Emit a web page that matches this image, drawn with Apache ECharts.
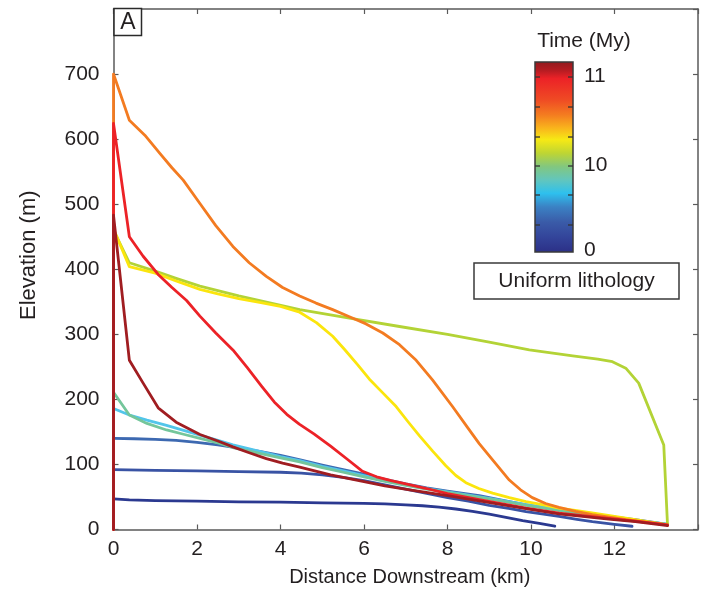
<!DOCTYPE html>
<html>
<head>
<meta charset="utf-8">
<script src="https://cdn.jsdelivr.net/npm/echarts@6/dist/echarts.min.js"></script>
<style>html,body{margin:0;padding:0;background:#fff}#c{width:701px;height:600px}</style>
</head>
<body>
<div id="c"></div>
<script>
// ---- data: [distance downstream (km), elevation (m)] ----
const xTicks = [0, 2, 4, 6, 8, 10, 12];
const yTicks = [0, 100, 200, 300, 400, 500, 600, 700];
const colorbarTitle = 'Time (My)';
const colorbarLabels = ['11', '10', '0'];
const legendText = 'Uniform lithology';
const panelLabel = 'A';

const profNavy = [[0,47],[0.38,45.5],[1,44.5],[2,43.5],[3,42.5],[4,42],[5,41],[6,40],[6.5,39.3],[7,38],[7.4,36.5],[7.8,34.5],[8.2,31.5],[8.6,28],[9,23.5],[9.4,18.5],[9.8,13.5],[10.2,9.5],[10.57,5]];
const profBlue = [[0,92],[1,91],[2,90],[3,89],[4,88],[4.5,86.5],[5,84],[5.5,80],[6,75],[6.5,68.5],[7,62],[7.5,55.5],[8,49],[8.5,43.5],[9,37],[9.5,32],[9.88,27.5],[10.3,23.5],[10.67,20],[11.1,15.5],[11.47,12],[12,8],[12.42,5]];
const profMidBlue = [[0,140],[0.5,139.5],[1,138.5],[1.5,137],[2,134],[2.5,130],[3,125],[3.5,120],[4,114],[4.5,106.5],[5,99],[5.5,92],[6,85],[6.5,77],[7,70],[7.5,64],[8,59],[8.76,52],[9.3,45],[9.88,38],[10.67,30],[11.3,24],[11.86,20],[12.5,15],[13.27,8]];
const profCyan = [[0,186],[0.38,176],[0.8,168],[1.27,160],[1.7,152],[2.07,145],[2.5,137],[2.86,130],[3.5,120],[4,112],[4.46,106],[5,97],[5.5,90],[6,83],[6.5,76],[7,69],[7.5,63],[8,58],[9,48],[10,37],[11,27],[12,18],[13.27,8]];
const profTeal = [[0,211],[0.38,176],[0.8,163],[1.27,153],[1.7,146],[2.07,140],[2.5,133],[2.86,126],[3.5,117],[4,110],[4.46,104],[5,95],[5.5,88],[6,81],[6.5,74],[7,68],[7.5,62],[8,57],[9,47],[10,36],[11,26],[12,18],[13.27,8]];
const profYellowGreen = [[0,460],[0.38,410],[1,397],[1.5,386],[2.07,374],[3,359],[4.46,338],[5.65,325],[6.85,312],[8,300],[9,288],[9.96,276],[11,267],[11.6,262],[11.95,258],[12.27,248],[12.58,225],[13.18,130],[13.27,7]];
const profYellow = [[0,462],[0.38,404],[1,394],[1.5,382],[2.07,369],[2.5,362],[3,355],[3.5,349],[4,343],[4.46,334],[4.86,318],[5.25,297],[5.53,277],[5.85,253],[6.13,231],[6.45,210],[6.77,189],[7.05,166],[7.33,144],[7.65,120],[7.96,98],[8.2,83],[8.44,72],[8.75,63],[9.08,56],[9.48,49],[9.88,43],[10.3,38],[10.67,33],[11.1,29],[11.5,25],[12,20],[12.5,15],[13.27,7]];
const profOrange = [[0,0],[0,700],[0.38,629],[0.75,606],[1.11,578],[1.4,556],[1.67,537],[2.07,501],[2.45,467],[2.86,435],[3.25,410],[3.66,389],[4.05,372],[4.46,359],[4.85,348],[5.25,338],[5.65,327],[6.05,316],[6.45,302],[6.85,284],[7.25,260],[7.64,230],[8.12,189],[8.5,155],[8.76,132],[9.08,107],[9.48,76],[9.75,61],[10.03,49],[10.35,40],[10.67,34],[11.07,28],[11.47,23],[11.87,19],[12.27,15],[12.8,11],[13.27,7]];
const profRed = [[0,0],[0,624],[0.38,450],[0.71,420],[1.07,392],[1.4,372],[1.75,352],[2.07,328],[2.45,302],[2.86,276],[3.2,249],[3.55,220],[3.85,196],[4.15,177],[4.45,162],[4.8,147],[5.2,128],[5.6,108],[5.95,90],[6.3,81],[6.65,75],[7.0,70],[7.5,63],[8,55],[8.76,46],[9.88,33],[10.67,25],[11.86,17],[12.5,13],[13.27,7]];
const profDarkRed = [[0,0],[0,483],[0.38,260],[0.71,225],[1.07,187],[1.5,165],[2.07,146],[2.5,136],[2.86,127],[3.25,118],[3.66,109],[4.05,102],[4.46,96],[5.2,84],[5.97,74],[6.5,67],[7.17,60],[8,52],[8.76,44],[9.88,32],[10.67,24],[11.86,16],[12.5,12],[13.27,6]];

const profiles = [
  {data: profNavy, color: '#2b3990'},
  {data: profBlue, color: '#3953a4'},
  {data: profMidBlue, color: '#3d69b1'},
  {data: profCyan, color: '#52c5ea'},
  {data: profTeal, color: '#74c69b'},
  {data: profYellowGreen, color: '#b3d336'},
  {data: profYellow, color: '#fbe50d'},
  {data: profOrange, color: '#f37b21'},
  {data: profRed, color: '#ec2227'},
  {data: profDarkRed, color: '#a01d21'}
];

const FONT = 'Liberation Sans';
const TXT = '#231f20';
const AX = '#5a5a5a';

const chart = echarts.init(document.getElementById('c'), null, {renderer: 'canvas'});

const baseAxis = {
  axisLine: {show: true, onZero: false, lineStyle: {color: AX, width: 1.5}},
  axisTick: {show: true, inside: true, length: 5, lineStyle: {color: AX, width: 1.2}},
  splitLine: {show: false}
};

const option = {
  animation: false,
  backgroundColor: '#fff',
  grid: {left: 113.5, right: 2, top: 9, bottom: 70.5, containLabel: false},
  xAxis: [
    Object.assign({}, baseAxis, {
      type: 'value', min: 0, max: 14, interval: 2, position: 'bottom',
      name: 'Distance Downstream (km)', nameLocation: 'middle', nameGap: 38,
      nameTextStyle: {fontFamily: FONT, fontSize: 20, color: TXT, padding: [0, 0, 0, 8]},
      axisLabel: {show: true, margin: 9, fontFamily: FONT, fontSize: 21, color: TXT,
        formatter: v => xTicks.indexOf(v) >= 0 ? String(v) : ''}
    }),
    Object.assign({}, baseAxis, {
      type: 'value', min: 0, max: 14, interval: 2, position: 'top', axisLabel: {show: false}
    })
  ],
  yAxis: [
    Object.assign({}, baseAxis, {
      type: 'value', min: 0, max: 800, interval: 100, position: 'left',
      name: 'Elevation (m)', nameLocation: 'middle', nameGap: 74,
      nameTextStyle: {fontFamily: FONT, fontSize: 22, color: TXT, padding: [0, 0, 0, 28]},
      axisLabel: {show: true, margin: 14, fontFamily: FONT, fontSize: 21, color: TXT,
        formatter: v => yTicks.indexOf(v) >= 0 ? String(v) : ''}
    }),
    Object.assign({}, baseAxis, {
      type: 'value', min: 0, max: 800, interval: 100, position: 'right', axisLabel: {show: false}
    })
  ],
  series: profiles.map(p => ({
    type: 'line', data: p.data, showSymbol: false, symbol: 'none', smooth: false,
    xAxisIndex: 0, yAxisIndex: 0, clip: true,
    lineStyle: {color: p.color, width: 2.8, join: 'round', cap: 'round'},
    itemStyle: {color: p.color}
  })),
  graphic: []
};

// colorbar (legend for time)
const cb = {x: 535, y: 62, w: 38, h: 190};
const cbStops = [
  [0.00, '#8e1b1e'], [0.05, '#b81c22'], [0.09, '#ec2227'], [0.20, '#ef4a24'],
  [0.28, '#f47c20'], [0.35, '#f9b51c'], [0.41, '#f6e915'], [0.48, '#bed533'],
  [0.55, '#82c77f'], [0.62, '#62c6bd'], [0.69, '#2ec0ee'], [0.76, '#3b82c4'],
  [0.84, '#3a5ba8'], [0.92, '#33449a'], [1.00, '#2b2f86']
];
const g = option.graphic;
g.push({type: 'rect', shape: {x: cb.x, y: cb.y, width: cb.w, height: cb.h},
  style: {fill: {type: 'linear', x: 0, y: 0, x2: 0, y2: 1,
    colorStops: cbStops.map(s => ({offset: s[0], color: s[1]}))}, stroke: '#3a3a3a', lineWidth: 1.5}, z: 10});
[77, 107, 137, 166, 195, 225].forEach(ty => {
  g.push({type: 'line', shape: {x1: cb.x, y1: ty, x2: cb.x + 5, y2: ty}, style: {stroke: '#333', lineWidth: 1.3}, z: 11});
  g.push({type: 'line', shape: {x1: cb.x + cb.w - 5, y1: ty, x2: cb.x + cb.w, y2: ty}, style: {stroke: '#333', lineWidth: 1.3}, z: 11});
});
const cbLabelY = [76, 165, 250];
colorbarLabels.forEach((t, i) => {
  g.push({type: 'text', x: 584, y: cbLabelY[i], style: {text: t, font: '21px ' + FONT, fill: TXT, textAlign: 'left', textVerticalAlign: 'middle'}, z: 11});
});
g.push({type: 'text', x: 584, y: 41, style: {text: colorbarTitle, font: '21px ' + FONT, fill: TXT, textAlign: 'center', textVerticalAlign: 'middle'}, z: 11});

// legend box
g.push({type: 'rect', shape: {x: 474, y: 263, width: 205, height: 36}, style: {fill: '#fff', stroke: '#3a3a3a', lineWidth: 1.5}, z: 10});
g.push({type: 'text', x: 576.5, y: 281.5, style: {text: legendText, font: '21px ' + FONT, fill: TXT, textAlign: 'center', textVerticalAlign: 'middle'}, z: 11});

// panel label
g.push({type: 'rect', shape: {x: 114, y: 8.5, width: 27.5, height: 27}, style: {fill: '#fff', stroke: '#2a2a2a', lineWidth: 1.5}, z: 10});
g.push({type: 'text', x: 128, y: 23, style: {text: panelLabel, font: '23px ' + FONT, fill: TXT, textAlign: 'center', textVerticalAlign: 'middle'}, z: 11});

chart.setOption(option);
</script>
</body>
</html>
